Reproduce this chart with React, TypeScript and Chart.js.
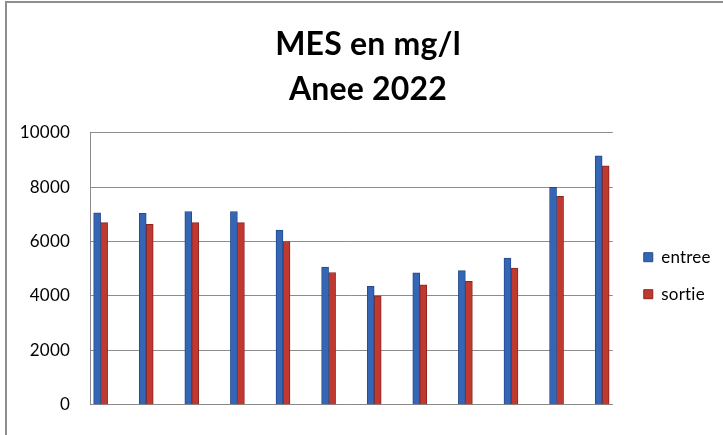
import { useEffect, useRef } from "react";
import { Chart, registerables } from "chart.js";

Chart.register(...registerables);

const categories = ["Janvier", "Février", "Mars", "Avril", "Mai", "Juin", "Juillet", "Août", "Septembre", "Octobre", "Novembre", "Décembre"];
const entree = [7050, 7030, 7100, 7100, 6420, 5060, 4350, 4850, 4930, 5390, 7990, 9150];
const sortie = [6690, 6630, 6690, 6690, 6000, 4860, 4000, 4410, 4540, 5020, 7660, 8780];
const seriesNames = ["entree", "sortie"];
const titleLines = ["MES en mg/l", "Anee 2022"];
const yMin = 0;
const yMax = 10000;
const yStep = 2000;

const noLigatures = {
  id: "noLigatures",
  beforeDraw(chart: any) {
    try {
      chart.ctx.letterSpacing = "0.2px";
    } catch (e) {}
  },
};

export default function App() {
  const ref = useRef<HTMLCanvasElement | null>(null);

  useEffect(() => {
    if (!ref.current) return;
    const chart = new Chart(ref.current, {
      type: "bar",
      data: {
        labels: categories,
        datasets: [
          {
            label: seriesNames[0],
            data: entree.map((v, i) => ({ x: i, y: v })),
            backgroundColor: "#3566b5",
            borderColor: "#244a8c",
            borderWidth: 1,
            barThickness: 7,
          },
          {
            label: seriesNames[1],
            data: sortie.map((v, i) => ({ x: i, y: v })),
            backgroundColor: "#c0392f",
            borderColor: "#8c2421",
            borderWidth: 1,
            barThickness: 7,
          },
        ],
      },
      plugins: [noLigatures],
      options: {
        animation: false,
        responsive: false,
        layout: { padding: { left: 16.5, right: 3.5, top: 0, bottom: 0 } },
        plugins: {
          title: {
            display: true,
            text: titleLines,
            color: "#000",
            font: { family: "Lato", size: 32, weight: "bold", lineHeight: 1.4 },
            padding: { top: 22, bottom: 21 },
          },
          legend: {
            position: "right",
            fullSize: false,
            title: {
              display: true,
              text: "",
              font: { size: 0, lineHeight: 0 },
              padding: { top: 14, bottom: 0 },
            },
            labels: {
              boxWidth: 9,
              boxHeight: 9,
              padding: 20,
              color: "#000",
              font: { family: "Lato", size: 17 },
            },
          },
          tooltip: { enabled: false },
        },
        scales: {
          x: {
            type: "linear",
            offset: false,
            min: -0.233,
            max: 11.233,
            ticks: { display: false },
            grid: { display: false, offset: false },
            border: { display: true, color: "#8a8a8a" },
            afterFit: (s: any) => {
              s.height = 19;
            },
          },
          y: {
            min: yMin,
            max: yMax,
            ticks: {
              stepSize: yStep,
              padding: 20,
              color: "#000",
              font: { family: "Lato", size: 17 },
              callback: (v: any) => String(v),
            },
            grid: { color: "#8c8c8c", drawTicks: false },
            border: { color: "#8a8a8a" },
            afterFit: (s: any) => {
              s.width = 73.5;
            },
          },
          y2: {
            position: "right",
            display: true,
            ticks: { display: false },
            grid: { display: false },
            border: { display: false },
            afterFit: (s: any) => {
              s.width = 11;
            },
          },
        },
      } as any,
    });
    return () => chart.destroy();
  }, []);

  return (
    <div style={{ position: "fixed", left: 0, top: 0, width: 723, height: 435, overflow: "hidden", background: "#fff" }}>
      <canvas ref={ref} width={723} height={435} style={{ display: "block" }} />
      <div
        style={{
          position: "absolute",
          left: 5,
          top: 1,
          width: 740,
          height: 450,
          border: "2px solid #8e8e8e",
          pointerEvents: "none",
        }}
      />
    </div>
  );
}
